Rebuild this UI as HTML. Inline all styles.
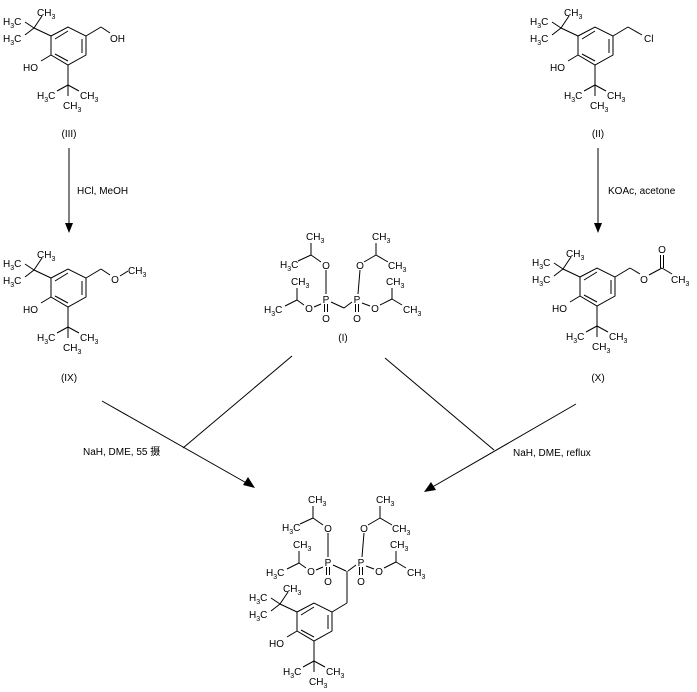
<!DOCTYPE html>
<html><head><meta charset="utf-8"><style>
html,body{margin:0;padding:0;background:#fff;}
svg{display:block;}
text{font-family:"Liberation Sans","Noto Sans CJK SC",sans-serif;font-size:10px;fill:#000;}
tspan.s{font-size:7px;}
</style></head><body>
<svg width="697" height="692" viewBox="0 0 697 692" xmlns="http://www.w3.org/2000/svg">
<defs>
<g id="ph" stroke="#000" stroke-width="1" fill="none">
  <polygon points="51,36 68,27 86,36 86,55 68,65 51,55"/>
  <line x1="55" y1="39" x2="68" y2="31"/>
  <line x1="82" y1="39" x2="82" y2="53"/>
  <line x1="55" y1="54" x2="68" y2="61"/>
  <line x1="51" y1="36" x2="34" y2="28"/>
  <line x1="34" y1="28" x2="42" y2="16"/>
  <line x1="34" y1="28" x2="25" y2="22"/>
  <line x1="34" y1="28" x2="25" y2="35"/>
  <line x1="51" y1="55" x2="41" y2="61"/>
  <line x1="68" y1="65" x2="68" y2="85"/>
  <line x1="68" y1="85" x2="57" y2="91"/>
  <line x1="68" y1="85" x2="79" y2="91"/>
  <line x1="68" y1="85" x2="68" y2="96"/>
  <line x1="86" y1="36" x2="101" y2="27"/>
</g>
<g id="pht">
  <text x="37" y="16">CH<tspan class="s" dy="3">3</tspan></text>
  <text x="3" y="25">H<tspan class="s" dy="3">3</tspan><tspan dy="-3">C</tspan></text>
  <text x="3" y="42">H<tspan class="s" dy="3">3</tspan><tspan dy="-3">C</tspan></text>
  <text x="23" y="71">HO</text>
  <text x="37" y="99">H<tspan class="s" dy="3">3</tspan><tspan dy="-3">C</tspan></text>
  <text x="80" y="99">CH<tspan class="s" dy="3">3</tspan></text>
  <text x="63" y="109">CH<tspan class="s" dy="3">3</tspan></text>
</g>
<g id="lh">
  <g stroke="#000" stroke-width="1" fill="none">
    <line x1="326" y1="270" x2="326" y2="294"/>
    <line x1="321" y1="262" x2="311" y2="255"/>
    <line x1="311" y1="255" x2="311" y2="243"/>
    <line x1="311" y1="255" x2="298" y2="261"/>
    <line x1="324.5" y1="304" x2="324.5" y2="312"/>
    <line x1="327.5" y1="304" x2="327.5" y2="312"/>
    <line x1="321" y1="304" x2="314" y2="307"/>
    <line x1="304" y1="305" x2="297" y2="300"/>
    <line x1="297" y1="300" x2="297" y2="288"/>
    <line x1="297" y1="300" x2="285" y2="306"/>
    <line x1="331" y1="302" x2="344" y2="308"/>
  </g>
  <text x="326" y="269" text-anchor="middle">O</text>
  <text x="326" y="303" text-anchor="middle">P</text>
  <text x="326" y="322" text-anchor="middle">O</text>
  <text x="309" y="312" text-anchor="middle">O</text>
  <text x="306" y="240">CH<tspan class="s" dy="3">3</tspan></text>
  <text x="280" y="268">H<tspan class="s" dy="3">3</tspan><tspan dy="-3">C</tspan></text>
  <text x="291" y="285">CH<tspan class="s" dy="3">3</tspan></text>
  <text x="264" y="313">H<tspan class="s" dy="3">3</tspan><tspan dy="-3">C</tspan></text>
</g>
<g id="rh">
  <g stroke="#000" stroke-width="1" fill="none">
    <line x1="358" y1="294" x2="360" y2="270"/>
    <line x1="364" y1="262" x2="376" y2="255"/>
    <line x1="376" y1="255" x2="376" y2="243"/>
    <line x1="376" y1="255" x2="388" y2="262"/>
    <line x1="355.5" y1="304" x2="355.5" y2="312"/>
    <line x1="358.5" y1="304" x2="358.5" y2="312"/>
    <line x1="362" y1="303" x2="370" y2="306"/>
    <line x1="380" y1="305" x2="392" y2="299"/>
    <line x1="392" y1="299" x2="392" y2="288"/>
    <line x1="392" y1="299" x2="402" y2="305"/>
    <line x1="352" y1="302" x2="344" y2="308"/>
  </g>
  <text x="360" y="269" text-anchor="middle">O</text>
  <text x="357" y="303" text-anchor="middle">P</text>
  <text x="357" y="322" text-anchor="middle">O</text>
  <text x="375" y="312" text-anchor="middle">O</text>
  <text x="372" y="240">CH<tspan class="s" dy="3">3</tspan></text>
  <text x="388" y="269">CH<tspan class="s" dy="3">3</tspan></text>
  <text x="386" y="285">CH<tspan class="s" dy="3">3</tspan></text>
  <text x="403" y="313">CH<tspan class="s" dy="3">3</tspan></text>
</g>
</defs>

<!-- (III) -->
<use href="#ph"/><use href="#pht"/>
<line x1="101" y1="27" x2="110" y2="33" stroke="#000"/>
<text x="110" y="42">OH</text>
<text x="69" y="137" text-anchor="middle">(III)</text>

<!-- (II) -->
<g transform="translate(527,0)">
<use href="#ph"/><use href="#pht"/>
<line x1="101" y1="27" x2="115" y2="35" stroke="#000"/>
<text x="117" y="42">Cl</text>
<text x="71" y="137" text-anchor="middle">(II)</text>
</g>

<!-- (IX) -->
<g transform="translate(0,242)">
<use href="#ph"/><use href="#pht"/>
<line x1="101" y1="27" x2="110" y2="33" stroke="#000"/>
<text x="115" y="41" text-anchor="middle">O</text>
<line x1="120" y1="34" x2="128" y2="29" stroke="#000"/>
<text x="128" y="32">CH<tspan class="s" dy="3">3</tspan></text>
<text x="69" y="139" text-anchor="middle">(IX)</text>
</g>

<!-- (X) -->
<g transform="translate(529,241)">
<use href="#ph"/><use href="#pht"/>
<line x1="101" y1="27" x2="111" y2="33" stroke="#000"/>
<text x="115" y="42" text-anchor="middle">O</text>
<line x1="120" y1="34" x2="133" y2="27" stroke="#000"/>
<line x1="131.5" y1="27" x2="131.5" y2="14" stroke="#000"/>
<line x1="134.5" y1="27" x2="134.5" y2="14" stroke="#000"/>
<text x="133" y="12" text-anchor="middle">O</text>
<line x1="133" y1="27" x2="143" y2="33" stroke="#000"/>
<text x="142" y="42">CH<tspan class="s" dy="3">3</tspan></text>
<text x="69" y="140" text-anchor="middle">(X)</text>
</g>

<!-- (I) -->
<use href="#lh"/><use href="#rh"/>
<text x="343" y="341" text-anchor="middle">(I)</text>

<!-- Product -->
<g transform="translate(246,576)"><use href="#ph"/><use href="#pht"/></g>
<g transform="translate(2,263)"><use href="#lh"/></g>
<g transform="translate(4,263)"><use href="#rh"/></g>
<line x1="347" y1="571" x2="347" y2="603" stroke="#000"/>

<!-- arrows -->
<g stroke="#000" stroke-width="1">
<line x1="69" y1="148" x2="69" y2="226"/>
<line x1="598" y1="148" x2="598" y2="226"/>
<line x1="102" y1="401" x2="250" y2="485"/>
<line x1="292" y1="356" x2="183" y2="448"/>
<line x1="576" y1="404" x2="429" y2="489"/>
<line x1="385" y1="358" x2="494" y2="450"/>
</g>
<polygon points="69,233 65,223 73,223" fill="#000"/>
<polygon points="598,233 594,223 602,223" fill="#000"/>
<polygon points="255,488 243,485 248,477" fill="#000"/>
<polygon points="424,492 431,482 436,490" fill="#000"/>
<text x="77" y="194">HCl, MeOH</text>
<text x="608" y="194">KOAc, acetone</text>
<text x="83" y="455">NaH, DME, 55 摄</text>
<text x="513" y="456">NaH, DME, reflux</text>
</svg>
</body></html>
